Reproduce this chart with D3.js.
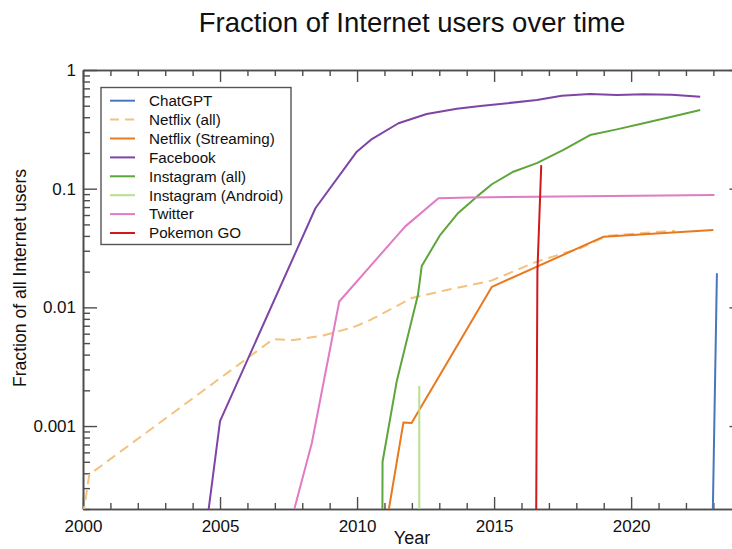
<!DOCTYPE html>
<html><head><meta charset="utf-8">
<script src="https://cdn.jsdelivr.net/npm/d3@7"></script>
<style>
body{margin:0;background:#fff;}
svg{display:block;font-family:"Liberation Sans",Arial,Helvetica,sans-serif;}
</style></head>
<body>
<svg id="chart" width="732" height="549"></svg>
<script>
// ---- data ----
const seriesNames = ["ChatGPT","Netflix (all)","Netflix (Streaming)","Facebook","Instagram (all)","Instagram (Android)","Twitter","Pokemon GO"];
const seriesColors = ["#4a76bf","#f4c27e","#e8791f","#7e44a6","#5ea63b","#b8df8c","#e07bc4","#d0191c"];

const chatgptYears = [2022.9, 2023.13];
const chatgptValues = [1.6e-5, 0.0194];

const netflixAllYears = [2000.0, 2000.23, 2006.94, 2007.67, 2008.77, 2009.86, 2010.47, 2012.0, 2013.27, 2014.9, 2016.56, 2018.14, 2019.11, 2021.6];
const netflixAllValues = [1.75e-4, 3.9e-4, 0.0054, 0.0053, 0.0058, 0.0068, 0.0078, 0.012, 0.014, 0.0168, 0.0243, 0.0315, 0.040, 0.0443];

const netflixStreamYears = [2011.0, 2011.69, 2011.99, 2014.92, 2019.0, 2023.0];
const netflixStreamValues = [1.2e-4, 0.00107, 0.00106, 0.0149, 0.0394, 0.0449];

const facebookYears = [2004.0, 2005.0, 2008.48, 2009.99, 2010.54, 2011.51, 2012.54, 2013.64, 2014.5, 2016.56, 2017.47, 2018.5, 2019.48, 2020.45, 2021.48, 2022.52];
const facebookValues = [1.8e-5, 0.0011, 0.0684, 0.205, 0.262, 0.356, 0.426, 0.472, 0.497, 0.558, 0.608, 0.628, 0.615, 0.624, 0.62, 0.596];

const instaAllYears = [2010.92, 2010.93, 2011.45, 2012.22, 2012.36, 2013.03, 2013.69, 2014.37, 2014.92, 2015.70, 2016.56, 2017.53, 2018.5, 2019.48, 2020.45, 2021.48, 2022.52];
const instaAllValues = [1e-4, 5.0e-4, 0.0024, 0.0127, 0.0223, 0.0407, 0.0624, 0.0857, 0.109, 0.139, 0.164, 0.212, 0.283, 0.316, 0.356, 0.404, 0.46];

const instaAndroidYears = [2012.27, 2012.27];
const instaAndroidValues = [1e-4, 0.00218];

const twitterYears = [2007.0, 2008.35, 2009.35, 2011.75, 2012.97, 2014.1, 2023.04];
const twitterValues = [4.8e-5, 7.2e-4, 0.0112, 0.0479, 0.083, 0.0843, 0.0885];

const pokemonYears = [2016.53, 2016.58, 2016.72];
const pokemonValues = [1e-4, 0.02, 0.158];

const xMajorTicks = [2000, 2005, 2010, 2015, 2020];
const xMajorLabels = ["2000","2005","2010","2015","2020"];
const yMajorTicks = [0.001, 0.01, 0.1, 1];
const yMajorLabels = ["0.001","0.01","0.1","1"];

const titleText = "Fraction of Internet users over time";
const xLabelText = "Year";
const yLabelText = "Fraction of all Internet users";

// ---- layout ----
const L = 83, R = 743.5, T = 70, B = 509;
const svg = d3.select("#chart");
const x = d3.scaleLinear().domain([2000, 2024.1]).range([L, R]);
const y = d3.scaleLog().domain([2e-4, 1]).range([B, T]);

const allSeries = [
  {years: chatgptYears, values: chatgptValues},
  {years: netflixAllYears, values: netflixAllValues, dash: "10,6"},
  {years: netflixStreamYears, values: netflixStreamValues},
  {years: facebookYears, values: facebookValues},
  {years: instaAllYears, values: instaAllValues},
  {years: instaAndroidYears, values: instaAndroidValues},
  {years: twitterYears, values: twitterValues},
  {years: pokemonYears, values: pokemonValues}
].map((s, i) => ({...s, name: seriesNames[i], color: seriesColors[i]}));

svg.append("defs").append("clipPath").attr("id","clip")
  .append("rect").attr("x", L).attr("y", T).attr("width", R - L).attr("height", B - T);

// minor ticks
const xMinor = d3.range(2000, 2025).filter(v => v % 5 !== 0);
const yMinor = [];
for (let e = -4; e <= -1; e++) for (let k = 2; k <= 9; k++) { const v = k * Math.pow(10, e); if (v >= 2e-4 && v < 1) yMinor.push(v); }

const axisColor = "#4d4d4d";
function styleAxis(g) {
  g.selectAll("path.domain").attr("stroke", axisColor).attr("stroke-width", 1.6);
  g.selectAll(".tick line").attr("stroke", axisColor).attr("stroke-width", 1.4);
  g.selectAll(".tick text").attr("fill", "#111").attr("font-size", 17);
}

// bottom
svg.append("g").attr("transform", `translate(0,${B})`)
  .call(d3.axisBottom(x).tickValues(xMajorTicks).tickFormat((d, i) => xMajorLabels[i]).tickSizeInner(-12).tickSizeOuter(0).tickPadding(8))
  .call(styleAxis).call(g => g.selectAll(".tick text").attr("dy", "0.9em"));
svg.append("g").attr("transform", `translate(0,${B})`)
  .call(d3.axisBottom(x).tickValues(xMinor).tickFormat("").tickSizeInner(-6).tickSizeOuter(0))
  .call(styleAxis);
// top
svg.append("g").attr("transform", `translate(0,${T})`)
  .call(d3.axisTop(x).tickValues(xMajorTicks).tickFormat("").tickSizeInner(-12).tickSizeOuter(0))
  .call(styleAxis);
svg.append("g").attr("transform", `translate(0,${T})`)
  .call(d3.axisTop(x).tickValues(xMinor).tickFormat("").tickSizeInner(-6).tickSizeOuter(0))
  .call(styleAxis);
// left
svg.append("g").attr("transform", `translate(${L},0)`)
  .call(d3.axisLeft(y).tickValues(yMajorTicks).tickFormat((d, i) => yMajorLabels[i]).tickSizeInner(-14).tickSizeOuter(0).tickPadding(7))
  .call(styleAxis);
svg.append("g").attr("transform", `translate(${L},0)`)
  .call(d3.axisLeft(y).tickValues(yMinor).tickFormat("").tickSizeInner(-7).tickSizeOuter(0))
  .call(styleAxis);
// right
svg.append("g").attr("transform", `translate(${R},0)`)
  .call(d3.axisRight(y).tickValues(yMajorTicks).tickFormat("").tickSizeInner(-14).tickSizeOuter(0))
  .call(styleAxis);
svg.append("g").attr("transform", `translate(${R},0)`)
  .call(d3.axisRight(y).tickValues(yMinor).tickFormat("").tickSizeInner(-7).tickSizeOuter(0))
  .call(styleAxis);

// lines
const line = d3.line().x(d => x(d[0])).y(d => y(d[1]));
const plot = svg.append("g").attr("clip-path", "url(#clip)");
allSeries.forEach(s => {
  plot.append("path")
    .datum(s.years.map((yr, i) => [yr, s.values[i]]))
    .attr("d", line)
    .attr("fill", "none")
    .attr("stroke", s.color)
    .attr("stroke-width", 2)
    .attr("stroke-linejoin", "round")
    .attr("stroke-dasharray", s.dash || null);
});

// legend
const lg = svg.append("g");
lg.append("rect").attr("x", 101).attr("y", 87.5).attr("width", 190).attr("height", 157)
  .attr("fill", "#fff").attr("stroke", "#555").attr("stroke-width", 1.4);
allSeries.forEach((s, i) => {
  const yy = 100.7 + i * 18.9;
  lg.append("line").attr("x1", 110).attr("x2", 135).attr("y1", yy).attr("y2", yy)
    .attr("stroke", s.color).attr("stroke-width", 2)
    .attr("stroke-dasharray", s.dash ? "9,6" : null);
  lg.append("text").attr("x", 149).attr("y", yy + 5.3).attr("font-size", 15.2).attr("fill", "#111").text(s.name);
});

// titles
svg.append("text").attr("x", 412).attr("y", 32).attr("text-anchor", "middle")
  .attr("font-size", 27.5).attr("fill", "#111").text(titleText);
svg.append("text").attr("x", 412).attr("y", 544).attr("text-anchor", "middle")
  .attr("font-size", 18).attr("fill", "#111").text(xLabelText);
svg.append("text").attr("transform", "translate(26,278) rotate(-90)").attr("text-anchor", "middle")
  .attr("font-size", 17.6).attr("fill", "#111").text(yLabelText);
</script>
</body></html>
